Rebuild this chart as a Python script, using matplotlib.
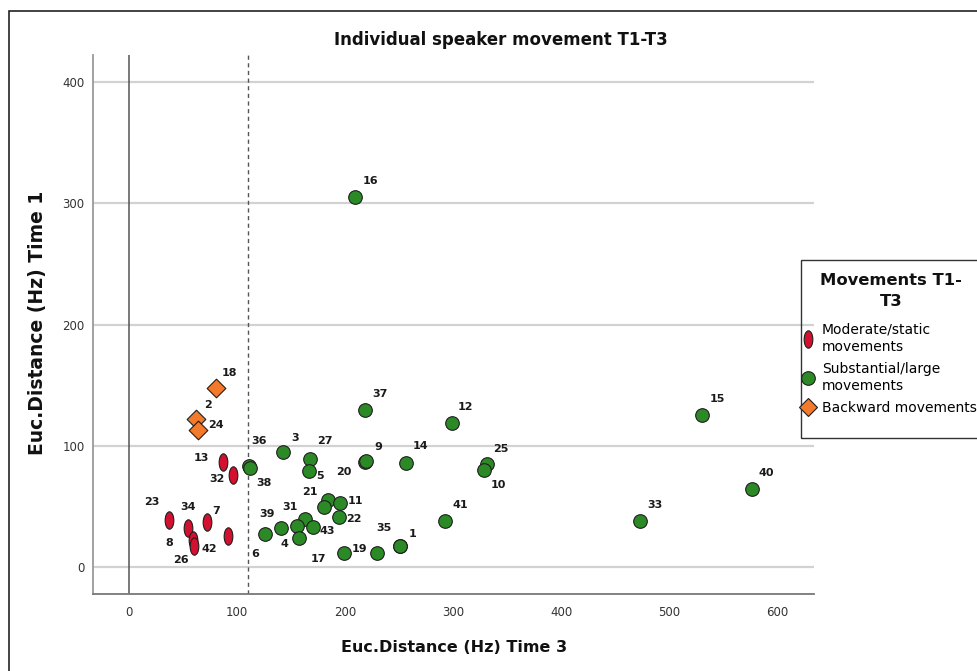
import numpy as np
import matplotlib
matplotlib.use("Agg")
import matplotlib.pyplot as plt
from matplotlib.path import Path
from matplotlib.transforms import Affine2D
from matplotlib.lines import Line2D
from matplotlib.patches import Rectangle

# Moderate/static movements (red ellipses)
mod_ids = ["13", "32", "23", "34", "7", "8", "26", "42"]
mod_x = [86.8, 96.6, 37.3, 54.9, 71.9, 59.5, 60.5, 91.4]
mod_y = [86.7, 76.0, 39.0, 32.1, 37.1, 22.5, 17.8, 26.0]

# Backward movements (orange diamonds)
back_ids = ["18", "2", "24"]
back_x = [80.3, 61.8, 64.2]
back_y = [147.9, 122.1, 113.1]

# Substantial/large movements (green circles), "" = no visible label
sub_ids = ["36", "38", "3", "27", "5", "20", "9", "14", "21", "", "11", "22",
           "31", "", "43", "4", "39", "6", "17", "19", "35", "1", "37", "12",
           "25", "10", "41", "15", "40", "33", "16"]
sub_x = [111.5, 112.3, 142.3, 167.6, 167.0, 218.8, 219.4, 256.2, 184.5, 180.6,
         195.4, 194.7, 163.0, 155.3, 170.1, 157.1, 140.5, 125.9, 199.0, 229.4,
         250.5, 250.9, 218.5, 298.8, 331.2, 328.7, 292.9, 530.6, 576.9, 472.5,
         209.3]
sub_y = [83.5, 81.5, 95.2, 89.0, 79.3, 87.0, 87.3, 86.2, 55.4, 49.9,
         52.7, 41.2, 39.5, 34.0, 33.4, 23.9, 32.6, 27.2, 11.5, 11.5,
         17.6, 17.8, 129.6, 119.1, 84.8, 80.1, 38.4, 125.2, 64.2, 38.4,
         305.0]

x_ticks = [0, 100, 200, 300, 400, 500, 600]
y_ticks = [0, 100, 200, 300, 400]
cutoff = 110

# label placement (pixels right, pixels down from the marker)
label_off = {
    "16": (15, -16), "37": (15, -16), "12": (14, -16), "15": (15, -16),
    "40": (14, -16), "33": (15, -16), "41": (15, -16), "25": (14, -15),
    "10": (14, 15), "14": (15, -17), "9": (12, -14), "20": (-22, 10),
    "27": (15, -18), "5": (11, 5), "3": (12, -14), "36": (10, -25),
    "38": (14, 15), "21": (-18, -8), "11": (15, -2), "22": (15, 2),
    "31": (-15, -12), "43": (14, 4), "4": (-14, 6), "39": (-14, -14),
    "6": (-10, 20), "17": (-26, 6), "19": (-17, -4), "35": (-16, -18),
    "1": (12, -12), "18": (14, -15), "2": (12, -14), "24": (18, -5),
    "13": (-21, -4), "32": (-16, 4), "23": (-17, -18), "34": (0, -21),
    "7": (9, -11), "8": (-24, 3), "26": (-13, 14), "42": (-18, 13),
}

RED = "#d3102f"
GREEN = "#2b8a26"
ORANGE = "#f27a2a"
EDGE = "#1e1e1e"

ellipse = Path.unit_circle().transformed(Affine2D().scale(0.5, 1.0))

W, H = 978, 671
fig = plt.figure(figsize=(W / 100, H / 100), dpi=100)


def fx(px):
    return px / W


def fy(py):
    return 1 - py / H


ax = fig.add_axes([fx(93), fy(594), fx(814) - fx(93), fy(55) - fy(594)])
ax.set_xlim(-33.3, 634)
ax.set_ylim(-22, 422)

ax.set_yticks(y_ticks)
ax.set_xticks(x_ticks)
ax.grid(axis="y", color="#d2d2d2", linewidth=1.6, zorder=0)
ax.set_axisbelow(True)
ax.tick_params(length=0, labelsize=8.5, labelcolor="#333333")
ax.tick_params(axis="x", pad=9)
ax.tick_params(axis="y", pad=6)
for s in ["top", "right"]:
    ax.spines[s].set_visible(False)
ax.spines["left"].set_color("#9a9a9a")
ax.spines["left"].set_linewidth(1.3)
ax.spines["bottom"].set_color("#777777")
ax.spines["bottom"].set_linewidth(1.3)

ax.axvline(0, color="#555555", linewidth=1.1, zorder=1)
ax.axvline(cutoff, color="#555555", linewidth=1.0, linestyle=(0, (3, 2.5)), zorder=1)

ax.scatter(mod_x, mod_y, marker=ellipse, s=12.5 ** 2, c=RED, edgecolors=EDGE,
           linewidths=0.8, zorder=3)
ax.scatter(sub_x, sub_y, marker="o", s=9.8 ** 2, c=GREEN, edgecolors=EDGE,
           linewidths=0.8, zorder=3)
ax.scatter(back_x, back_y, marker="D", s=9.5 ** 2, c=ORANGE, edgecolors=EDGE,
           linewidths=0.8, zorder=4)

for ids, xs, ys in [(mod_ids, mod_x, mod_y), (sub_ids, sub_x, sub_y),
                    (back_ids, back_x, back_y)]:
    for lab, x, y in zip(ids, xs, ys):
        if not lab:
            continue
        dx, dy = label_off[lab]
        ax.annotate(lab, (x, y), xytext=(dx, -dy), textcoords="offset pixels",
                    ha="center", va="center", fontsize=8, color="#1a1a1a",
                    fontweight="bold", zorder=5)

fig.text(fx(501), fy(40), "Individual speaker movement T1-T3", ha="center",
         va="center", fontsize=12, fontweight="bold", color="#111111")
fig.text(fx(454), fy(648), "Euc.Distance (Hz) Time 3", ha="center", va="center",
         fontsize=11.5, fontweight="bold", color="#111111")
fig.text(fx(38), fy(323), "Euc.Distance (Hz) Time 1", ha="center", va="center",
         rotation=90, fontsize=13.5, fontweight="bold", color="#111111")

handles = [
    Line2D([], [], linestyle="none", marker=ellipse, markersize=12.5,
           markerfacecolor=RED, markeredgecolor=EDGE, markeredgewidth=0.8),
    Line2D([], [], linestyle="none", marker="o", markersize=9.8,
           markerfacecolor=GREEN, markeredgecolor=EDGE, markeredgewidth=0.8),
    Line2D([], [], linestyle="none", marker="D", markersize=9.5,
           markerfacecolor=ORANGE, markeredgecolor=EDGE, markeredgewidth=0.8),
]
labels = ["Moderate/static\nmovements", "Substantial/large\nmovements",
          "Backward movements"]
leg = fig.legend(handles, labels, loc="upper left",
                 bbox_to_anchor=(fx(802.5), fy(323)),
                 frameon=False, fontsize=10,
                 handlelength=0.8, handletextpad=0.6, borderpad=0,
                 borderaxespad=0, labelspacing=0.55)
for t in leg.get_texts():
    t.set_linespacing(1.3)

# legend title and box, the box runs off the right edge like the source
fig.text(fx(891), fy(291), "Movements T1-\nT3", ha="center", va="center",
         multialignment="center", fontsize=11.8, fontweight="bold",
         linespacing=1.45, color="#111111")
fig.add_artist(Rectangle((fx(801.5), fy(438)), fx(200), fy(260) - fy(438),
                         transform=fig.transFigure, fill=False,
                         edgecolor="#333333", linewidth=1.0, clip_on=False))

# outer frame of the chart
fig.add_artist(Rectangle((fx(9), fy(700)), 1.2, fy(11) - fy(700),
                         transform=fig.transFigure, fill=False,
                         edgecolor="#222222", linewidth=1.2, clip_on=False))

fig.savefig("out.png", dpi=100)
